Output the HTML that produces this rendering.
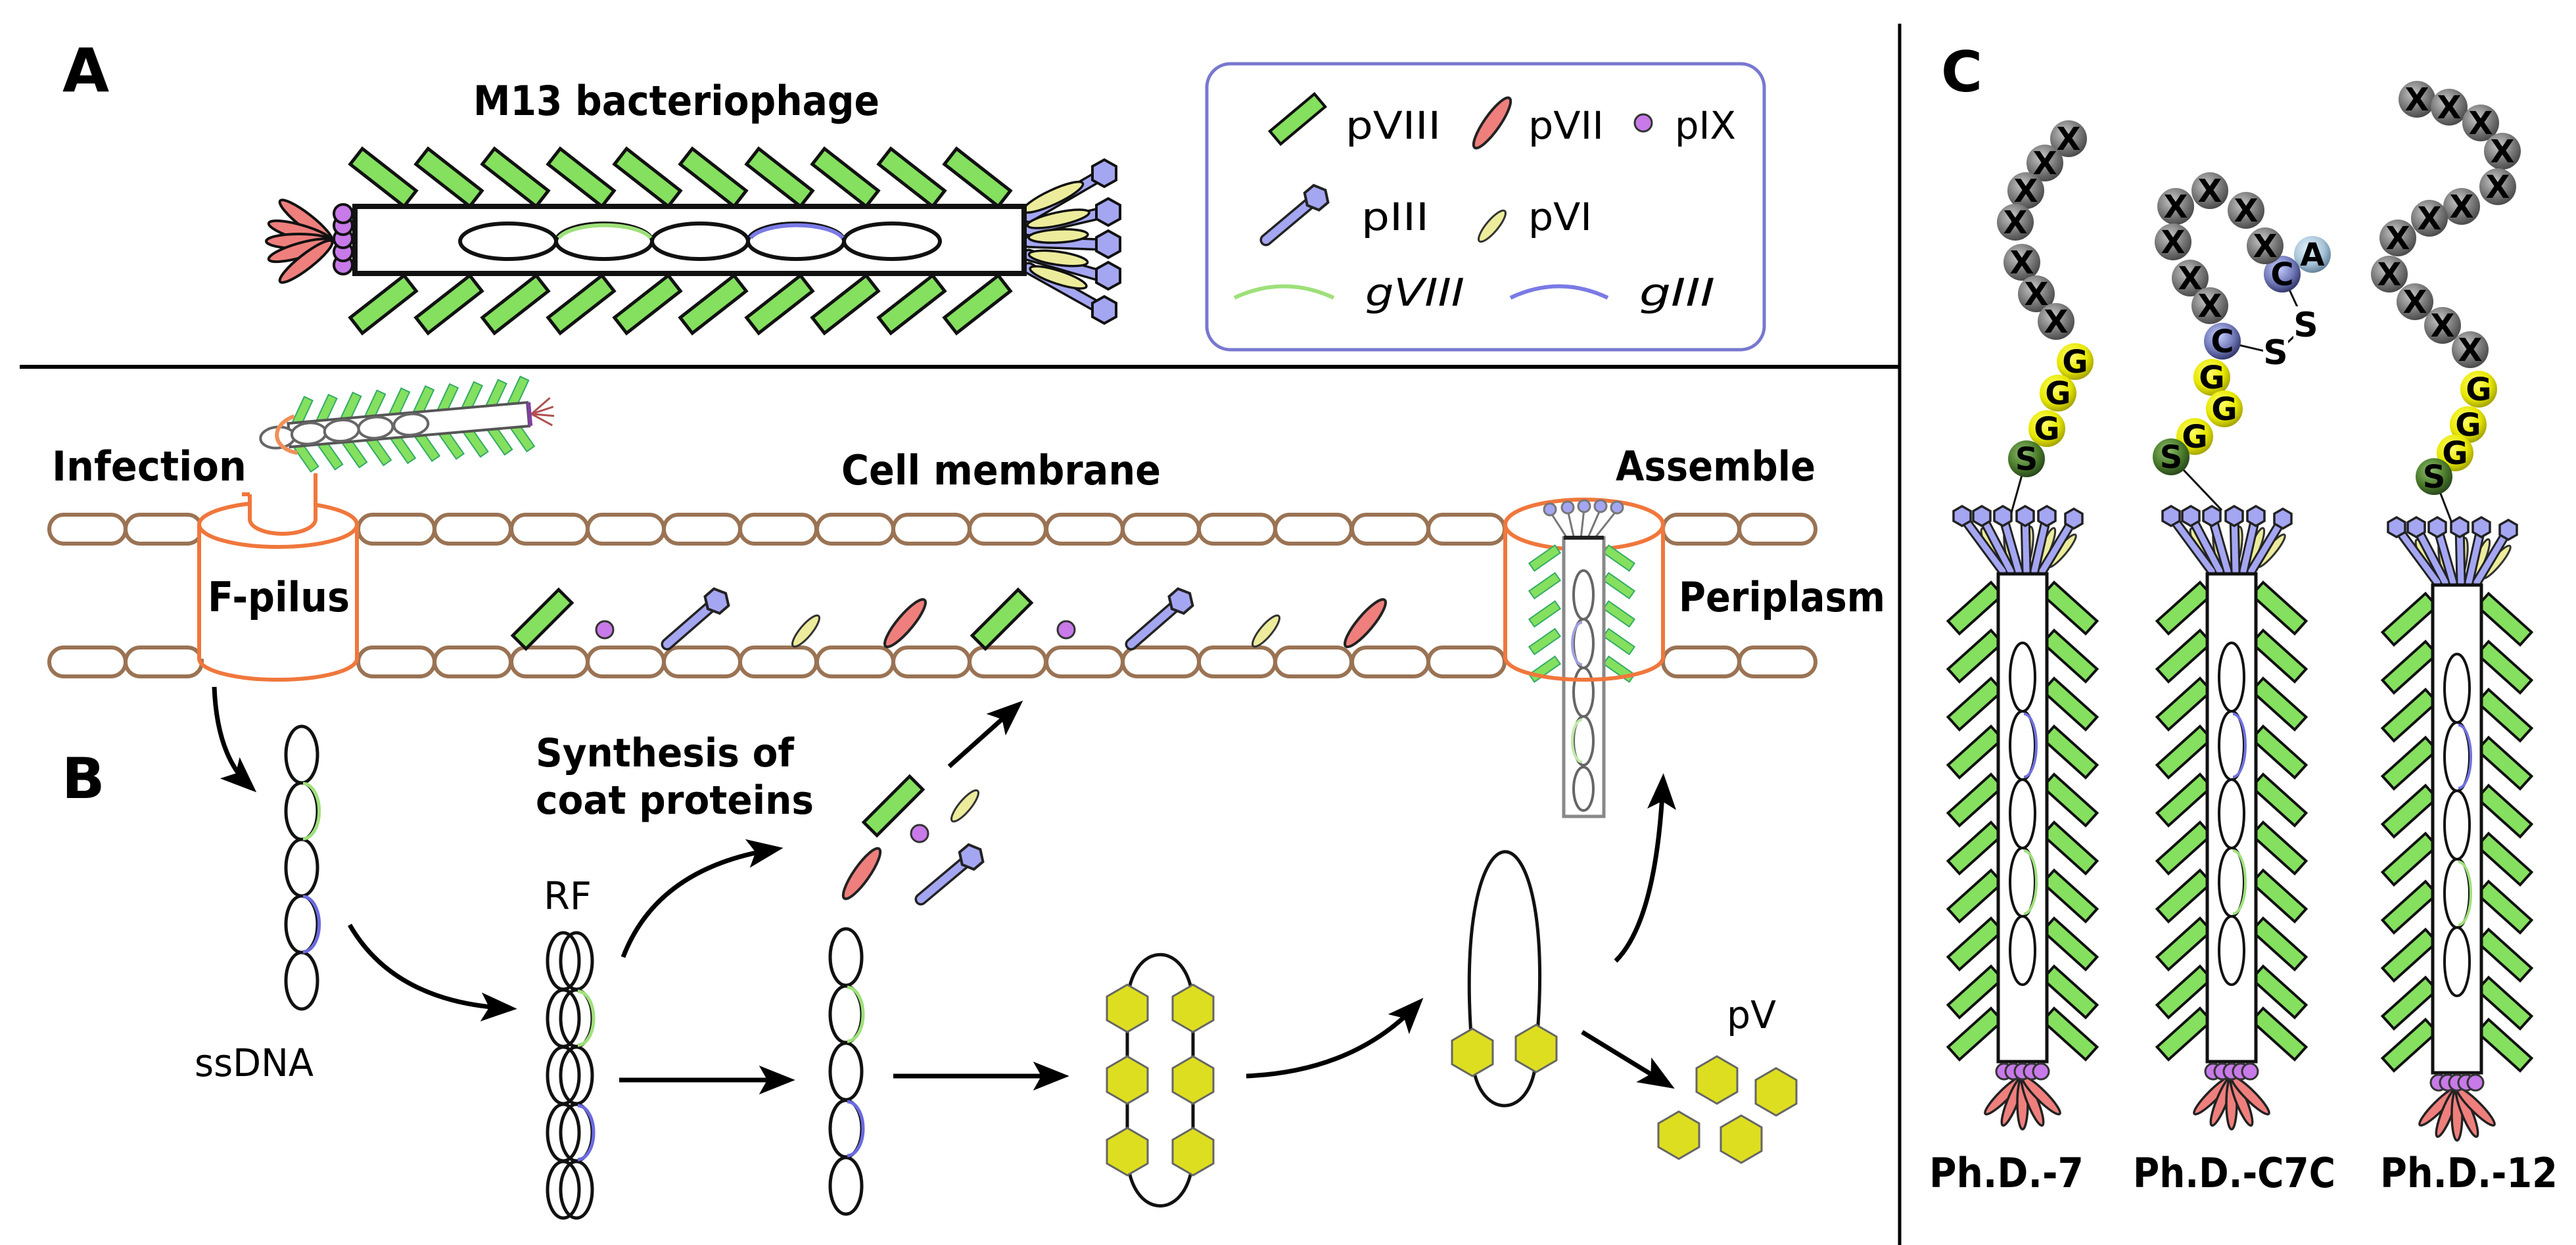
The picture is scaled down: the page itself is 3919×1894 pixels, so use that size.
<!DOCTYPE html>
<html><head><meta charset="utf-8"><style>
html,body{margin:0;padding:0;background:#fff}
svg{display:block}
text{font-family:"DejaVu Sans","Liberation Sans",sans-serif}
.b{font-weight:bold}
</style></head><body>
<svg width="3919" height="1894" viewBox="0 0 3919 1894" xmlns="http://www.w3.org/2000/svg">
<defs>
<rect id="g8" x="-52" y="-15" width="104" height="30" fill="#84e05e" stroke="#111" stroke-width="5"/>
<rect id="g8c" x="-44" y="-13" width="88" height="26" fill="#84e05e" stroke="#111" stroke-width="4"/>
<rect id="g8s" x="-24" y="-7" width="48" height="14" fill="#84e05e" stroke="#3a6" stroke-width="2"/>
<rect id="cell" x="0" y="0" width="116" height="44" rx="22" fill="#fff" stroke="#9a7354" stroke-width="6"/>
<polygon id="hexY" points="36,0 18,31 -18,31 -36,0 -18,-31 18,-31" fill="#dede20" stroke="#666" stroke-width="3"/>
<g id="p3">
<line x1="0" y1="0" x2="0" y2="-88" stroke="#222" stroke-width="19" stroke-linecap="round"/>
<line x1="0" y1="0" x2="0" y2="-88" stroke="#a4a6f2" stroke-width="12" stroke-linecap="round"/>
<polygon points="0,-118 17,-109 17,-91 0,-82 -17,-91 -17,-109" fill="#a4a6f2" stroke="#222" stroke-width="4"/>
</g>
<polygon id="hexB" points="0,-15 13,-7.5 13,7.5 0,15 -13,7.5 -13,-7.5" fill="#a4a6f2" stroke="#222" stroke-width="3.5"/>
<ellipse id="p7" rx="46" ry="12" fill="#ee7f7c" stroke="#222" stroke-width="4"/>
<ellipse id="p6" rx="30" ry="9" fill="#ecec9c" stroke="#333" stroke-width="3"/>
<circle id="p9" r="13" fill="#c77ae8" stroke="#333" stroke-width="3"/>
<marker id="ar" viewBox="0 0 40 32" refX="30" refY="16" markerWidth="56" markerHeight="44" markerUnits="userSpaceOnUse" orient="auto">
<path d="M0,0 L40,16 L0,32 L9,16 Z" fill="#000"/>
</marker>
<radialGradient id="gx" cx="0.4" cy="0.35" r="0.7"><stop offset="0" stop-color="#c8c8c8"/><stop offset="0.6" stop-color="#777"/><stop offset="1" stop-color="#444"/></radialGradient>
<radialGradient id="gg" cx="0.4" cy="0.35" r="0.7"><stop offset="0" stop-color="#ffff70"/><stop offset="0.6" stop-color="#e8e800"/><stop offset="1" stop-color="#9a9a00"/></radialGradient>
<radialGradient id="gs" cx="0.4" cy="0.35" r="0.7"><stop offset="0" stop-color="#8ec070"/><stop offset="0.6" stop-color="#4a7a2a"/><stop offset="1" stop-color="#23401a"/></radialGradient>
<radialGradient id="gc" cx="0.4" cy="0.35" r="0.7"><stop offset="0" stop-color="#c8d0ff"/><stop offset="0.6" stop-color="#7078b8"/><stop offset="1" stop-color="#2a2f60"/></radialGradient>
<radialGradient id="ga" cx="0.4" cy="0.35" r="0.7"><stop offset="0" stop-color="#e6f4ff"/><stop offset="0.6" stop-color="#a8c4d8"/><stop offset="1" stop-color="#5a7890"/></radialGradient>
<g id="phC">
<use href="#g8c" transform="translate(-72,52) rotate(-42)"/><use href="#g8c" transform="translate(-72,125) rotate(-42)"/><use href="#g8c" transform="translate(-72,198) rotate(-42)"/><use href="#g8c" transform="translate(-72,271) rotate(-42)"/><use href="#g8c" transform="translate(-72,344) rotate(-42)"/><use href="#g8c" transform="translate(-72,417) rotate(-42)"/><use href="#g8c" transform="translate(-72,490) rotate(-42)"/><use href="#g8c" transform="translate(-72,563) rotate(-42)"/><use href="#g8c" transform="translate(-72,636) rotate(-42)"/><use href="#g8c" transform="translate(-72,700) rotate(-42)"/>
<use href="#g8c" transform="translate(72,52) rotate(42)"/><use href="#g8c" transform="translate(72,125) rotate(42)"/><use href="#g8c" transform="translate(72,198) rotate(42)"/><use href="#g8c" transform="translate(72,271) rotate(42)"/><use href="#g8c" transform="translate(72,344) rotate(42)"/><use href="#g8c" transform="translate(72,417) rotate(42)"/><use href="#g8c" transform="translate(72,490) rotate(42)"/><use href="#g8c" transform="translate(72,563) rotate(42)"/><use href="#g8c" transform="translate(72,636) rotate(42)"/><use href="#g8c" transform="translate(72,700) rotate(42)"/>
<g fill="#ecec9c" stroke="#333" stroke-width="3">
<ellipse cx="-48" cy="-40" rx="7" ry="32" transform="rotate(-25,-48,-40)"/><ellipse cx="-20" cy="-40" rx="7" ry="32" transform="rotate(-8,-20,-40)"/><ellipse cx="8" cy="-40" rx="7" ry="32" transform="rotate(8,8,-40)"/><ellipse cx="36" cy="-40" rx="7" ry="32" transform="rotate(22,36,-40)"/><ellipse cx="60" cy="-35" rx="7" ry="32" transform="rotate(40,60,-35)"/>
</g>
<g stroke-linecap="round">
<g stroke="#222" stroke-width="15"><line x1="-30" y1="-4" x2="-92" y2="-88"/><line x1="-18" y1="-4" x2="-62" y2="-88"/><line x1="-6" y1="-4" x2="-30" y2="-88"/><line x1="6" y1="-4" x2="4" y2="-88"/><line x1="18" y1="-4" x2="37" y2="-88"/><line x1="30" y1="-4" x2="78" y2="-84"/></g>
<g stroke="#a4a6f2" stroke-width="9"><line x1="-30" y1="-4" x2="-92" y2="-88"/><line x1="-18" y1="-4" x2="-62" y2="-88"/><line x1="-6" y1="-4" x2="-30" y2="-88"/><line x1="6" y1="-4" x2="4" y2="-88"/><line x1="18" y1="-4" x2="37" y2="-88"/><line x1="30" y1="-4" x2="78" y2="-84"/></g>
</g>
<use href="#hexB" x="-92" y="-88"/><use href="#hexB" x="-62" y="-88"/><use href="#hexB" x="-30" y="-88"/><use href="#hexB" x="4" y="-88"/><use href="#hexB" x="37" y="-88"/><use href="#hexB" x="78" y="-84"/>
<rect x="-37" y="0" width="74" height="742" fill="#fff" stroke="#111" stroke-width="5"/>
<g fill="none" stroke="#111" stroke-width="4">
<ellipse cx="0" cy="157" rx="19" ry="52"/><ellipse cx="0" cy="261" rx="19" ry="52"/><ellipse cx="0" cy="365" rx="19" ry="52"/><ellipse cx="0" cy="469" rx="19" ry="52"/><ellipse cx="0" cy="573" rx="19" ry="52"/>
</g>
<path d="M2,213 A19,48 0 0 1 2,309" fill="none" stroke="#7070e0" stroke-width="4"/>
<path d="M2,421 A19,48 0 0 1 2,517" fill="none" stroke="#9ee07a" stroke-width="4"/>
<g fill="#ee7f7c" stroke="#222" stroke-width="3.5">
<ellipse cx="0" cy="805" rx="8" ry="40" transform="rotate(45,0,765)"/><ellipse cx="0" cy="805" rx="8" ry="40" transform="rotate(22,0,765)"/><ellipse cx="0" cy="805" rx="8" ry="40"/><ellipse cx="0" cy="805" rx="8" ry="40" transform="rotate(-22,0,765)"/><ellipse cx="0" cy="805" rx="8" ry="40" transform="rotate(-45,0,765)"/>
</g>
<g fill="#c77ae8" stroke="#333" stroke-width="3"><circle cx="-28" cy="757" r="12"/><circle cx="-14" cy="757" r="12"/><circle cx="0" cy="757" r="12"/><circle cx="14" cy="757" r="12"/><circle cx="28" cy="757" r="12"/></g>
</g>
</defs>

<line x1="30" y1="558" x2="2890" y2="558" stroke="#000" stroke-width="6"/>
<line x1="2890" y1="36" x2="2890" y2="1894" stroke="#000" stroke-width="5"/>

<text x="95" y="139" font-size="92" class="b">A</text>
<text x="720" y="175" font-size="62" class="b" textLength="618" lengthAdjust="spacingAndGlyphs">M13 bacteriophage</text>
<g>
<use href="#g8" transform="translate(583,270) rotate(38)"/><use href="#g8" transform="translate(683,270) rotate(38)"/><use href="#g8" transform="translate(784,270) rotate(38)"/><use href="#g8" transform="translate(884,270) rotate(38)"/><use href="#g8" transform="translate(985,270) rotate(38)"/><use href="#g8" transform="translate(1085,270) rotate(38)"/><use href="#g8" transform="translate(1186,270) rotate(38)"/><use href="#g8" transform="translate(1286,270) rotate(38)"/><use href="#g8" transform="translate(1387,270) rotate(38)"/><use href="#g8" transform="translate(1487,270) rotate(38)"/>
<use href="#g8" transform="translate(583,463) rotate(-38)"/><use href="#g8" transform="translate(683,463) rotate(-38)"/><use href="#g8" transform="translate(784,463) rotate(-38)"/><use href="#g8" transform="translate(884,463) rotate(-38)"/><use href="#g8" transform="translate(985,463) rotate(-38)"/><use href="#g8" transform="translate(1085,463) rotate(-38)"/><use href="#g8" transform="translate(1186,463) rotate(-38)"/><use href="#g8" transform="translate(1286,463) rotate(-38)"/><use href="#g8" transform="translate(1387,463) rotate(-38)"/><use href="#g8" transform="translate(1487,463) rotate(-38)"/>
</g>
<g fill="#ee7f7c" stroke="#111" stroke-width="4">
<ellipse cx="455" cy="367" rx="50" ry="11" transform="rotate(38,505,367)"/><ellipse cx="455" cy="367" rx="50" ry="11" transform="rotate(16,505,367)"/><ellipse cx="455" cy="367" rx="50" ry="11"/><ellipse cx="455" cy="367" rx="50" ry="11" transform="rotate(-16,505,367)"/><ellipse cx="455" cy="367" rx="50" ry="11" transform="rotate(-38,505,367)"/>
</g>
<g fill="#c77ae8" stroke="#111" stroke-width="4"><circle cx="522" cy="403" r="14"/><circle cx="522" cy="383" r="14"/><circle cx="522" cy="363" r="14"/><circle cx="522" cy="343" r="14"/><circle cx="522" cy="325" r="14"/></g>
<g stroke-linecap="round">
<g stroke="#111" stroke-width="19"><line x1="1565" y1="330" x2="1672" y2="268"/><line x1="1565" y1="350" x2="1676" y2="324"/><line x1="1565" y1="368" x2="1676" y2="372"/><line x1="1565" y1="388" x2="1676" y2="420"/><line x1="1565" y1="408" x2="1672" y2="468"/></g>
<g stroke="#a4a6f2" stroke-width="12"><line x1="1565" y1="330" x2="1672" y2="268"/><line x1="1565" y1="350" x2="1676" y2="324"/><line x1="1565" y1="368" x2="1676" y2="372"/><line x1="1565" y1="388" x2="1676" y2="420"/><line x1="1565" y1="408" x2="1672" y2="468"/></g>
</g>
<g fill="#ecec9c" stroke="#111" stroke-width="3.5">
<ellipse cx="1602" cy="300" rx="50" ry="11" transform="rotate(-25,1602,300)"/><ellipse cx="1610" cy="333" rx="48" ry="10" transform="rotate(-12,1610,333)"/><ellipse cx="1610" cy="359" rx="45" ry="10" transform="rotate(-3,1610,359)"/><ellipse cx="1610" cy="393" rx="45" ry="10" transform="rotate(8,1610,393)"/><ellipse cx="1610" cy="422" rx="45" ry="10" transform="rotate(18,1610,422)"/>
</g>
<g fill="#a4a6f2" stroke="#111" stroke-width="4">
<polygon points="1680,243 1698,253 1698,274 1680,284 1662,274 1662,253"/>
<polygon points="1686,302 1704,312 1704,333 1686,343 1668,333 1668,312"/>
<polygon points="1686,351 1704,361 1704,382 1686,392 1668,382 1668,361"/>
<polygon points="1686,399 1704,409 1704,430 1686,440 1668,430 1668,409"/>
<polygon points="1680,451 1698,461 1698,482 1680,492 1662,482 1662,461"/>
</g>
<rect x="540" y="314" width="1018" height="102" fill="#fff" stroke="#111" stroke-width="8"/>
<g fill="none" stroke="#111" stroke-width="6">
<ellipse cx="773" cy="367" rx="73" ry="27"/><ellipse cx="919" cy="367" rx="73" ry="27"/><ellipse cx="1065" cy="367" rx="73" ry="27"/><ellipse cx="1211" cy="367" rx="73" ry="27"/><ellipse cx="1357" cy="367" rx="73" ry="27"/>
</g>
<path d="M850,362 A73,27 0 0 1 990,362" fill="none" stroke="#9ee07a" stroke-width="6"/>
<path d="M1142,362 A73,27 0 0 1 1282,362" fill="none" stroke="#7a7ae6" stroke-width="6"/>

<rect x="1836" y="97" width="848" height="435" rx="36" fill="#fff" stroke="#7878d0" stroke-width="5"/>
<use href="#g8" transform="translate(1974,181) rotate(-40) scale(0.85)"/>
<text x="2047" y="211" font-size="58" textLength="145" lengthAdjust="spacingAndGlyphs">pVIII</text>
<use href="#p7" transform="translate(2270,187) rotate(-55)"/>
<text x="2325" y="211" font-size="58" textLength="115" lengthAdjust="spacingAndGlyphs">pVII</text>
<use href="#p9" x="2500" y="187"/>
<text x="2548" y="211" font-size="58" textLength="93" lengthAdjust="spacingAndGlyphs">pIX</text>
<use href="#p3" transform="translate(1926,365) rotate(50)"/>
<text x="2071" y="350" font-size="58" textLength="103" lengthAdjust="spacingAndGlyphs">pIII</text>
<use href="#p6" transform="translate(2270,344) rotate(-50)"/>
<text x="2325" y="350" font-size="58" textLength="97" lengthAdjust="spacingAndGlyphs">pVI</text>
<path d="M1878,453 Q1953,418 2029,453" fill="none" stroke="#9ee07a" stroke-width="6"/>
<text x="2077" y="465" font-size="58" font-style="italic" textLength="151" lengthAdjust="spacingAndGlyphs">gVIII</text>
<path d="M2298,453 Q2372,418 2446,453" fill="none" stroke="#7a7ae6" stroke-width="6"/>
<text x="2494" y="465" font-size="58" font-style="italic" textLength="115" lengthAdjust="spacingAndGlyphs">gIII</text>

<text x="79" y="731" font-size="62" class="b" textLength="296" lengthAdjust="spacingAndGlyphs">Infection</text>
<text x="1280" y="737" font-size="62" class="b" textLength="486" lengthAdjust="spacingAndGlyphs">Cell membrane</text>
<text x="2458" y="731" font-size="62" class="b" textLength="304" lengthAdjust="spacingAndGlyphs">Assemble</text>
<text x="2554" y="930" font-size="62" class="b" textLength="314" lengthAdjust="spacingAndGlyphs">Periplasm</text>
<text x="94" y="1214" font-size="86" class="b">B</text>

<g>
<use href="#cell" x="75" y="783"/><use href="#cell" x="191" y="783"/>
<use href="#cell" x="545" y="783"/><use href="#cell" x="661" y="783"/><use href="#cell" x="778" y="783"/><use href="#cell" x="894" y="783"/><use href="#cell" x="1010" y="783"/><use href="#cell" x="1126" y="783"/><use href="#cell" x="1243" y="783"/><use href="#cell" x="1359" y="783"/><use href="#cell" x="1475" y="783"/><use href="#cell" x="1592" y="783"/><use href="#cell" x="1708" y="783"/><use href="#cell" x="1824" y="783"/><use href="#cell" x="1940" y="783"/><use href="#cell" x="2057" y="783"/><use href="#cell" x="2173" y="783"/>
<use href="#cell" x="2530" y="783"/><use href="#cell" x="2646" y="783"/>
<use href="#cell" x="75" y="985"/><use href="#cell" x="191" y="985"/>
<use href="#cell" x="545" y="985"/><use href="#cell" x="661" y="985"/><use href="#cell" x="778" y="985"/><use href="#cell" x="894" y="985"/><use href="#cell" x="1010" y="985"/><use href="#cell" x="1126" y="985"/><use href="#cell" x="1243" y="985"/><use href="#cell" x="1359" y="985"/><use href="#cell" x="1475" y="985"/><use href="#cell" x="1592" y="985"/><use href="#cell" x="1708" y="985"/><use href="#cell" x="1824" y="985"/><use href="#cell" x="1940" y="985"/><use href="#cell" x="2057" y="985"/><use href="#cell" x="2173" y="985"/>
<use href="#cell" x="2530" y="985"/><use href="#cell" x="2646" y="985"/>
</g>

<g fill="none" stroke="#f0773c" stroke-width="6">
<rect x="303" y="798" width="240" height="204" fill="#fff" stroke="none"/>
<line x1="303" y1="798" x2="303" y2="1002"/><line x1="543" y1="798" x2="543" y2="1002"/>
<ellipse cx="423" cy="798" rx="120" ry="34" fill="#fff"/>
<path d="M303,1002 A120,32 0 0 0 543,1002"/>
<path d="M380,752 L380,790 A50,22 0 0 0 480,790 L480,720" fill="#fff"/>
<line x1="380" y1="752" x2="368" y2="752"/>
</g>
<text x="316" y="930" font-size="62" class="b" textLength="216" lengthAdjust="spacingAndGlyphs">F-pilus</text>

<g transform="translate(440,662) rotate(-5)">
<g>
<use href="#g8s" transform="translate(22,-32) rotate(-60)"/><use href="#g8s" transform="translate(59,-32) rotate(-60)"/><use href="#g8s" transform="translate(96,-32) rotate(-60)"/><use href="#g8s" transform="translate(133,-32) rotate(-60)"/><use href="#g8s" transform="translate(170,-32) rotate(-60)"/><use href="#g8s" transform="translate(207,-32) rotate(-60)"/><use href="#g8s" transform="translate(244,-32) rotate(-60)"/><use href="#g8s" transform="translate(281,-32) rotate(-60)"/><use href="#g8s" transform="translate(318,-32) rotate(-60)"/><use href="#g8s" transform="translate(352,-34) rotate(-60)"/>
<use href="#g8s" transform="translate(22,34) rotate(60)"/><use href="#g8s" transform="translate(59,34) rotate(60)"/><use href="#g8s" transform="translate(96,34) rotate(60)"/><use href="#g8s" transform="translate(133,34) rotate(60)"/><use href="#g8s" transform="translate(170,34) rotate(60)"/><use href="#g8s" transform="translate(207,34) rotate(60)"/><use href="#g8s" transform="translate(244,34) rotate(60)"/><use href="#g8s" transform="translate(281,34) rotate(60)"/><use href="#g8s" transform="translate(318,34) rotate(60)"/><use href="#g8s" transform="translate(352,32) rotate(60)"/>
</g>
<rect x="0" y="-18" width="365" height="36" fill="#fff" stroke="#555" stroke-width="4"/>
<g fill="#fff" stroke="#666" stroke-width="4"><ellipse cx="-18" cy="2" rx="26" ry="16"/><ellipse cx="30" cy="0" rx="26" ry="16"/><ellipse cx="80" cy="0" rx="26" ry="16"/><ellipse cx="132" cy="0" rx="26" ry="16"/><ellipse cx="186" cy="0" rx="26" ry="16"/></g>
<path d="M10,-28 A45,30 0 0 0 10,28" fill="none" stroke="#f0905a" stroke-width="6"/>
<line x1="367" y1="-18" x2="367" y2="18" stroke="#8040a0" stroke-width="6"/>
<g stroke="#b05050" stroke-width="3"><line x1="370" y1="0" x2="400" y2="-22"/><line x1="370" y1="0" x2="404" y2="-8"/><line x1="370" y1="0" x2="404" y2="6"/><line x1="370" y1="0" x2="400" y2="20"/></g>
</g>

<use href="#g8" transform="translate(825,942) rotate(-45) scale(0.95)"/>
<use href="#p9" x="920" y="958"/>
<use href="#p3" transform="translate(1015,980) rotate(49)"/>
<use href="#p6" transform="translate(1226,960) rotate(-50)"/>
<use href="#p7" transform="translate(1377,948) rotate(-50)"/>
<use href="#g8" transform="translate(1524,942) rotate(-45) scale(0.95)"/>
<use href="#p9" x="1622" y="958"/>
<use href="#p3" transform="translate(1721,980) rotate(49)"/>
<use href="#p6" transform="translate(1926,960) rotate(-50)"/>
<use href="#p7" transform="translate(2077,948) rotate(-50)"/>

<g>
<rect x="2290" y="798" width="240" height="204" fill="#fff"/>
<ellipse cx="2410" cy="798" rx="120" ry="38" fill="#fff" stroke="#f0773c" stroke-width="6"/>
<use href="#g8s" transform="translate(2350,849) rotate(-35)"/><use href="#g8s" transform="translate(2350,891) rotate(-35)"/><use href="#g8s" transform="translate(2350,934) rotate(-35)"/><use href="#g8s" transform="translate(2350,976) rotate(-35)"/><use href="#g8s" transform="translate(2350,1018) rotate(-35)"/>
<use href="#g8s" transform="translate(2463,849) rotate(35)"/><use href="#g8s" transform="translate(2463,891) rotate(35)"/><use href="#g8s" transform="translate(2463,934) rotate(35)"/><use href="#g8s" transform="translate(2463,976) rotate(35)"/><use href="#g8s" transform="translate(2463,1018) rotate(35)"/>
<g stroke-width="3" stroke="#777" fill="#a4a6f2">
<line x1="2385" y1="820" x2="2358" y2="778"/><line x1="2395" y1="820" x2="2385" y2="776"/><line x1="2405" y1="820" x2="2410" y2="774"/><line x1="2415" y1="820" x2="2435" y2="774"/><line x1="2425" y1="820" x2="2460" y2="776"/>
<circle cx="2358" cy="775" r="9"/><circle cx="2385" cy="772" r="9"/><circle cx="2410" cy="770" r="9"/><circle cx="2435" cy="770" r="9"/><circle cx="2460" cy="772" r="9"/>
</g>
<rect x="2379" y="818" width="61" height="424" fill="#fff" stroke="#888" stroke-width="5"/>
<line x1="2379" y1="818" x2="2440" y2="818" stroke="#222" stroke-width="6"/>
<g fill="none" stroke="#666" stroke-width="4"><ellipse cx="2409" cy="905" rx="15" ry="37"/><ellipse cx="2409" cy="979" rx="15" ry="37"/><ellipse cx="2409" cy="1053" rx="15" ry="37"/><ellipse cx="2409" cy="1127" rx="15" ry="37"/><ellipse cx="2409" cy="1200" rx="15" ry="33"/></g>
<path d="M2407,947 A15,32 0 0 0 2407,1011" fill="none" stroke="#a0a0e0" stroke-width="4"/>
<path d="M2407,1095 A15,32 0 0 0 2407,1159" fill="none" stroke="#bfe8a8" stroke-width="4"/>
<g fill="none" stroke="#f0773c" stroke-width="6">
<line x1="2290" y1="798" x2="2290" y2="1000"/><line x1="2530" y1="798" x2="2530" y2="1000"/>
<path d="M2290,1000 A120,34 0 0 0 2530,1000"/>
</g>
</g>

<g fill="none" stroke="#111" stroke-width="5">
<ellipse cx="459" cy="1148" rx="24" ry="43"/><ellipse cx="459" cy="1234" rx="24" ry="43"/><ellipse cx="459" cy="1320" rx="24" ry="43"/><ellipse cx="459" cy="1406" rx="24" ry="43"/><ellipse cx="459" cy="1492" rx="24" ry="43"/>
</g>
<path d="M461,1192 A24,41 0 0 1 461,1276" fill="none" stroke="#9ee07a" stroke-width="5"/>
<path d="M461,1364 A24,41 0 0 1 461,1448" fill="none" stroke="#6a6ae0" stroke-width="5"/>
<text x="296" y="1637" font-size="58" textLength="181" lengthAdjust="spacingAndGlyphs">ssDNA</text>

<text x="827" y="1383" font-size="58" textLength="73" lengthAdjust="spacingAndGlyphs">RF</text>
<g fill="none" stroke="#111" stroke-width="5">
<ellipse cx="857" cy="1462" rx="24" ry="43"/><ellipse cx="857" cy="1549" rx="24" ry="43"/><ellipse cx="857" cy="1636" rx="24" ry="43"/><ellipse cx="857" cy="1723" rx="24" ry="43"/><ellipse cx="857" cy="1810" rx="24" ry="43"/>
<ellipse cx="877" cy="1462" rx="24" ry="43"/><ellipse cx="877" cy="1549" rx="24" ry="43"/><ellipse cx="877" cy="1636" rx="24" ry="43"/><ellipse cx="877" cy="1723" rx="24" ry="43"/><ellipse cx="877" cy="1810" rx="24" ry="43"/>
</g>
<path d="M879,1508 A24,41 0 0 1 879,1590" fill="none" stroke="#9ee07a" stroke-width="5"/>
<path d="M879,1682 A24,41 0 0 1 879,1764" fill="none" stroke="#6a6ae0" stroke-width="5"/>

<g fill="none" stroke="#111" stroke-width="5">
<ellipse cx="1287" cy="1456" rx="24" ry="43"/><ellipse cx="1287" cy="1543" rx="24" ry="43"/><ellipse cx="1287" cy="1630" rx="24" ry="43"/><ellipse cx="1287" cy="1717" rx="24" ry="43"/><ellipse cx="1287" cy="1804" rx="24" ry="43"/>
</g>
<path d="M1289,1502 A24,41 0 0 1 1289,1584" fill="none" stroke="#9ee07a" stroke-width="5"/>
<path d="M1289,1676 A24,41 0 0 1 1289,1758" fill="none" stroke="#6a6ae0" stroke-width="5"/>

<text x="815" y="1166" font-size="60" class="b" textLength="393" lengthAdjust="spacingAndGlyphs">Synthesis of</text>
<text x="815" y="1238" font-size="60" class="b" textLength="423" lengthAdjust="spacingAndGlyphs">coat proteins</text>

<use href="#g8" transform="translate(1359,1226) rotate(-45) scale(0.95)"/>
<use href="#p6" transform="translate(1468,1226) rotate(-50)"/>
<use href="#p9" x="1399" y="1268"/>
<use href="#p7" transform="translate(1311,1329) rotate(-55)"/>
<use href="#p3" transform="translate(1401,1368) rotate(50)"/>

<path d="M1715,1534 C1715,1425 1815,1425 1815,1534 L1815,1752 C1815,1862 1715,1862 1715,1752 Z" fill="none" stroke="#111" stroke-width="5"/>
<use href="#hexY" transform="translate(1715,1534) rotate(90)"/><use href="#hexY" transform="translate(1815,1534) rotate(90)"/>
<use href="#hexY" transform="translate(1715,1643) rotate(90)" stroke="#111" stroke-width="6"/><use href="#hexY" transform="translate(1815,1643) rotate(90)"/>
<use href="#hexY" transform="translate(1715,1752) rotate(90)"/><use href="#hexY" transform="translate(1815,1752) rotate(90)"/>

<path d="M2240,1601 C2205,1195 2375,1195 2337,1595 C2340,1710 2240,1710 2240,1601 Z" fill="none" stroke="#111" stroke-width="5"/>
<use href="#hexY" transform="translate(2240,1601) rotate(90)"/><use href="#hexY" transform="translate(2337,1595) rotate(90)"/>

<text x="2627" y="1564" font-size="58" textLength="75" lengthAdjust="spacingAndGlyphs">pV</text>
<use href="#hexY" transform="translate(2612,1643) rotate(90)"/><use href="#hexY" transform="translate(2702,1661) rotate(90)"/>
<use href="#hexY" transform="translate(2554,1727) rotate(90)"/><use href="#hexY" transform="translate(2649,1733) rotate(90)"/>

<g fill="none" stroke="#000" stroke-width="7" marker-end="url(#ar)">
<path d="M326,1045 Q330,1150 380,1196"/>
<path d="M532,1407 Q600,1525 773,1534"/>
<path d="M948,1456 Q1000,1320 1178,1292"/>
<path d="M1444,1166 L1546,1075"/>
<path d="M942,1643 L1196,1643"/>
<path d="M1359,1637 L1613,1637"/>
<path d="M1896,1637 Q2060,1630 2156,1528"/>
<path d="M2458,1462 Q2520,1400 2530,1190"/>
<path d="M2407,1570 L2536,1649"/>
</g>

<text x="2953" y="139" font-size="86" class="b">C</text>
<use href="#phC" x="3077" y="873"/>
<use href="#phC" x="3395" y="873"/>
<use href="#phC" x="3738" y="890"/>

<g stroke="#111" stroke-width="3" fill="none">
<line x1="3083" y1="698" x2="3060" y2="780"/>
<line x1="3303" y1="695" x2="3380" y2="776"/>
<line x1="3703" y1="725" x2="3730" y2="795"/>
<polyline points="3381,519 3462,538 3508,495 3472,417"/>
</g>

<g font-size="48" class="b" text-anchor="middle" stroke="none">
<g><circle cx="3147" cy="211" r="28" fill="url(#gx)"/><text x="3147" y="228">X</text></g>
<g><circle cx="3111" cy="248" r="28" fill="url(#gx)"/><text x="3111" y="265">X</text></g>
<g><circle cx="3082" cy="290" r="28" fill="url(#gx)"/><text x="3082" y="307">X</text></g>
<g><circle cx="3066" cy="338" r="28" fill="url(#gx)"/><text x="3066" y="355">X</text></g>
<g><circle cx="3076" cy="399" r="28" fill="url(#gx)"/><text x="3076" y="416">X</text></g>
<g><circle cx="3098" cy="447" r="28" fill="url(#gx)"/><text x="3098" y="464">X</text></g>
<g><circle cx="3128" cy="489" r="28" fill="url(#gx)"/><text x="3128" y="506">X</text></g>
<g><circle cx="3157" cy="550" r="28" fill="url(#gg)"/><text x="3157" y="567">G</text></g>
<g><circle cx="3131" cy="598" r="28" fill="url(#gg)"/><text x="3131" y="615">G</text></g>
<g><circle cx="3114" cy="652" r="28" fill="url(#gg)"/><text x="3114" y="669">G</text></g>
<g><circle cx="3083" cy="698" r="28" fill="url(#gs)"/><text x="3083" y="715">S</text></g>
<g><circle cx="3518" cy="387" r="28" fill="url(#ga)"/><text x="3518" y="404">A</text></g>
<g><circle cx="3472" cy="417" r="28" fill="url(#gc)"/><text x="3472" y="434">C</text></g>
<g><circle cx="3446" cy="374" r="28" fill="url(#gx)"/><text x="3446" y="391">X</text></g>
<g><circle cx="3417" cy="320" r="28" fill="url(#gx)"/><text x="3417" y="337">X</text></g>
<g><circle cx="3362" cy="290" r="28" fill="url(#gx)"/><text x="3362" y="307">X</text></g>
<g><circle cx="3310" cy="314" r="28" fill="url(#gx)"/><text x="3310" y="331">X</text></g>
<g><circle cx="3306" cy="368" r="28" fill="url(#gx)"/><text x="3306" y="385">X</text></g>
<g><circle cx="3332" cy="423" r="28" fill="url(#gx)"/><text x="3332" y="440">X</text></g>
<g><circle cx="3362" cy="465" r="28" fill="url(#gx)"/><text x="3362" y="482">X</text></g>
<g><circle cx="3381" cy="519" r="28" fill="url(#gc)"/><text x="3381" y="536">C</text></g>
<g><circle cx="3365" cy="574" r="28" fill="url(#gg)"/><text x="3365" y="591">G</text></g>
<g><circle cx="3384" cy="622" r="28" fill="url(#gg)"/><text x="3384" y="639">G</text></g>
<g><circle cx="3339" cy="664" r="28" fill="url(#gg)"/><text x="3339" y="681">G</text></g>
<g><circle cx="3303" cy="695" r="28" fill="url(#gs)"/><text x="3303" y="712">S</text></g>
<g><circle cx="3677" cy="151" r="28" fill="url(#gx)"/><text x="3677" y="168">X</text></g>
<g><circle cx="3726" cy="163" r="28" fill="url(#gx)"/><text x="3726" y="180">X</text></g>
<g><circle cx="3774" cy="187" r="28" fill="url(#gx)"/><text x="3774" y="204">X</text></g>
<g><circle cx="3807" cy="230" r="28" fill="url(#gx)"/><text x="3807" y="247">X</text></g>
<g><circle cx="3800" cy="284" r="28" fill="url(#gx)"/><text x="3800" y="301">X</text></g>
<g><circle cx="3745" cy="314" r="28" fill="url(#gx)"/><text x="3745" y="331">X</text></g>
<g><circle cx="3696" cy="332" r="28" fill="url(#gx)"/><text x="3696" y="349">X</text></g>
<g><circle cx="3648" cy="362" r="28" fill="url(#gx)"/><text x="3648" y="379">X</text></g>
<g><circle cx="3635" cy="417" r="28" fill="url(#gx)"/><text x="3635" y="434">X</text></g>
<g><circle cx="3674" cy="459" r="28" fill="url(#gx)"/><text x="3674" y="476">X</text></g>
<g><circle cx="3716" cy="495" r="28" fill="url(#gx)"/><text x="3716" y="512">X</text></g>
<g><circle cx="3758" cy="532" r="28" fill="url(#gx)"/><text x="3758" y="549">X</text></g>
<g><circle cx="3771" cy="592" r="28" fill="url(#gg)"/><text x="3771" y="609">G</text></g>
<g><circle cx="3755" cy="646" r="28" fill="url(#gg)"/><text x="3755" y="663">G</text></g>
<g><circle cx="3735" cy="689" r="28" fill="url(#gg)"/><text x="3735" y="706">G</text></g>
<g><circle cx="3703" cy="725" r="28" fill="url(#gs)"/><text x="3703" y="742">S</text></g>
<rect x="3443" y="508" width="38" height="50" fill="#fff"/><text x="3462" y="554" font-size="52">S</text>
<rect x="3489" y="466" width="38" height="50" fill="#fff"/><text x="3508" y="512" font-size="52">S</text>
</g>

<text x="2935" y="1806" font-size="62" class="b" textLength="235" lengthAdjust="spacingAndGlyphs">Ph.D.-7</text>
<text x="3245" y="1806" font-size="62" class="b" textLength="308" lengthAdjust="spacingAndGlyphs">Ph.D.-C7C</text>
<text x="3621" y="1806" font-size="62" class="b" textLength="270" lengthAdjust="spacingAndGlyphs">Ph.D.-12</text>
</svg>
</body></html>
